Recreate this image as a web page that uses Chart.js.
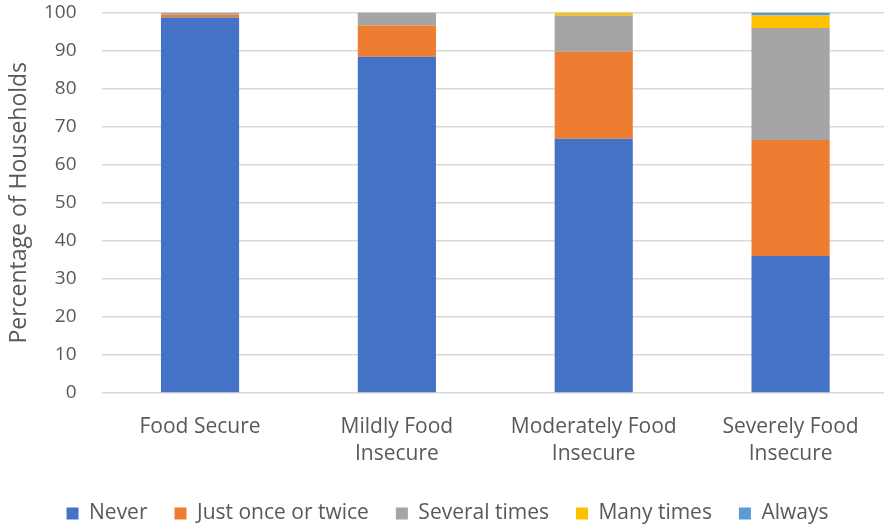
<!DOCTYPE html>
<html>
<head>
<meta charset="utf-8">
<script src="https://cdn.jsdelivr.net/npm/chart.js@4"></script>
<style>
html,body{margin:0;padding:0;background:#fff;overflow:hidden;width:884px;height:525px;}
canvas{display:block;}
</style>
</head>
<body>
<canvas id="c" width="890" height="525"></canvas>
<script>
const categories = [["Food Secure"], ["Mildly Food", "Insecure"], ["Moderately Food", "Insecure"], ["Severely Food", "Insecure"]];
const never = [98.7, 88.4, 66.8, 36.0];
const justOnceOrTwice = [0.7, 8.2, 22.9, 30.5];
const severalTimes = [0.6, 3.4, 9.5, 29.4];
const manyTimes = [0, 0, 0.8, 3.3];
const always = [0, 0, 0, 0.8];
const seriesNames = ["Never", "Just once or twice", "Several times", "Many times", "Always"];
const seriesColors = ["#4472C4", "#ED7D31", "#A5A5A5", "#FFC000", "#5B9BD5"];
const yTicks = [0, 10, 20, 30, 40, 50, 60, 70, 80, 90, 100];

const seriesValues = [never, justOnceOrTwice, severalTimes, manyTimes, always];
const textColor = "#595959";
const fam = "'Open Sans', sans-serif";

new Chart(document.getElementById("c"), {
  type: "bar",
  data: {
    labels: categories,
    datasets: seriesValues.map((v, i) => ({
      label: seriesNames[i],
      data: v,
      backgroundColor: seriesColors[i],
      borderWidth: 0,
      categoryPercentage: 1,
      barPercentage: 0.397
    }))
  },
  options: {
    responsive: false,
    animation: false,
    layout: { padding: { top: 0, left: 6, right: 1, bottom: -9 } },
    plugins: {
      tooltip: { enabled: false },
      legend: {
        position: "bottom",
        labels: {
          color: textColor,
          font: { family: fam, size: 21 },
          boxWidth: 12,
          boxHeight: 12,
          padding: 27
        }
      }
    },
    scales: {
      x: {
        stacked: true,
        grid: { display: false },
        border: { display: false },
        ticks: {
          color: textColor,
          font: { family: fam, size: 21, lineHeight: 1.3 },
          padding: 12,
          maxRotation: 0,
          autoSkip: false
        },
        afterFit: s => { s.height = 83; }
      },
      y: {
        stacked: true,
        min: 0,
        max: 100,
        afterBuildTicks: s => { s.ticks = yTicks.map(v => ({ value: v })); },
        grid: { color: "#d9d9d9", lineWidth: 1.6, drawTicks: false },
        border: { display: false },
        ticks: {
          color: textColor,
          font: { family: fam, size: 19 },
          padding: 25
        },
        title: {
          display: true,
          text: "Percentage of Households",
          color: textColor,
          font: { family: fam, size: 23 },
          padding: { top: 0, bottom: 6 }
        },
        afterFit: s => { s.width = 95.6; s.paddingTop = 12.5; s.paddingBottom = 0; }
      }
    }
  }
});
</script>
</body>
</html>
